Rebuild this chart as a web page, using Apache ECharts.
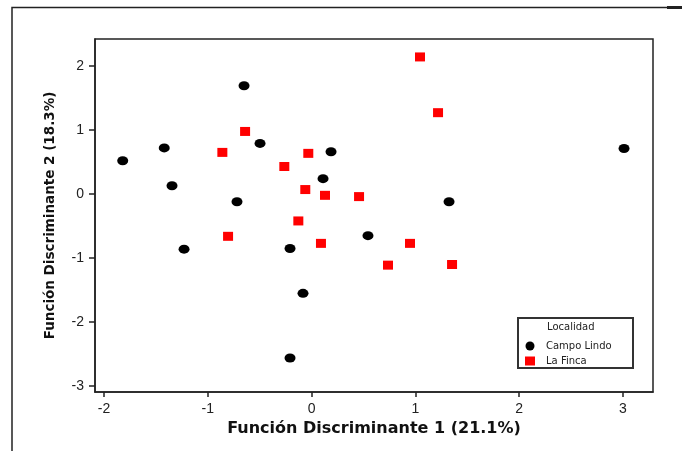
<!DOCTYPE html>
<html>
<head>
<meta charset="utf-8">
<script src="https://cdn.jsdelivr.net/npm/echarts@6/dist/echarts.min.js"></script>
<style>html,body{margin:0;padding:0;background:#fff;}#c{width:682px;height:451px;}</style>
</head>
<body>
<div id="c"></div>
<script>
var xTicks = [-2, -1, 0, 1, 2, 3];
var yTicks = [-3, -2, -1, 0, 1, 2];
var campoLindoX = [-1.82, -1.42, -1.345, -0.651, -0.497, -0.719, -1.229, 0.187, 0.11, -0.208, -0.083, -0.208, 0.543, 1.324, 3.01];
var campoLindoY = [0.52, 0.72, 0.13, 1.69, 0.79, -0.12, -0.86, 0.66, 0.24, -0.85, -1.55, -2.56, -0.65, -0.12, 0.71];
var laFincaX = [-0.641, -0.86, -0.032, -0.263, -0.061, 0.129, 0.457, -0.128, -0.805, 0.09, 1.044, 1.218, 0.948, 0.736, 1.353];
var laFincaY = [0.977, 0.65, 0.635, 0.43, 0.07, -0.02, -0.04, -0.42, -0.66, -0.77, 2.14, 1.27, -0.77, -1.11, -1.10];

function zip(a, b) { return a.map(function (v, i) { return [v, b[i]]; }); }

var chart = echarts.init(document.getElementById('c'));
var font = 'Liberation Sans, Arial, sans-serif';
var wide = 'DejaVu Sans, Verdana, sans-serif';
chart.setOption({
  animation: false,
  backgroundColor: '#fff',
  grid: { left: 95, top: 39, right: 29, bottom: 59, show: true, borderColor: '#222', borderWidth: 1.5, backgroundColor: '#fff' },
  xAxis: {
    type: 'value', min: -2.087, max: 3.289,
    name: 'Función Discriminante 1 (21.1%)', nameLocation: 'middle', nameGap: 28,
    nameTextStyle: { fontFamily: wide, fontWeight: 'bold', fontSize: 16, color: '#111' },
    axisLine: { show: true, onZero: false, lineStyle: { color: '#222', width: 1.5 } },
    axisTick: { show: true, length: 5, inside: false, customValues: xTicks, lineStyle: { color: '#222', width: 1.5 } },
    axisLabel: { customValues: xTicks, margin: 10, fontFamily: font, fontSize: 14, color: '#222' },
    splitLine: { show: false }
  },
  yAxis: {
    type: 'value', min: -3.09, max: 2.42,
    name: 'Función Discriminante 2 (18.3%)', nameLocation: 'middle', nameGap: 38, nameRotate: 90,
    nameTextStyle: { fontFamily: wide, fontWeight: 'bold', fontSize: 13.5, color: '#111' },
    axisLine: { show: true, onZero: false, lineStyle: { color: '#222', width: 1.5 } },
    axisTick: { show: true, length: 6, inside: false, customValues: yTicks, lineStyle: { color: '#222', width: 1.5 } },
    axisLabel: { customValues: yTicks, margin: 11, fontFamily: font, fontSize: 14, color: '#222' },
    splitLine: { show: false }
  },
  legend: {
    left: 525, top: 341, padding: 0, orient: 'vertical', itemGap: 5, itemWidth: 10, itemHeight: 9,
    textStyle: { fontFamily: wide, fontSize: 10, color: '#222', padding: [0, 0, 0, 6] },
    data: [{ name: 'Campo Lindo', icon: 'circle' }, { name: 'La Finca', icon: 'rect' }]
  },
  graphic: [
    { type: 'polyline', shape: { points: [[12, 451], [12, 7.5], [667, 7.5]] }, style: { stroke: '#222', lineWidth: 1.5, fill: null } },
    { type: 'line', shape: { x1: 667, y1: 7.5, x2: 682, y2: 7.5 }, style: { stroke: '#222', lineWidth: 3 } },
    { type: 'rect', shape: { x: 518, y: 318, width: 115, height: 50 }, style: { stroke: '#333', lineWidth: 2, fill: 'rgba(0,0,0,0)' }, z: 100 },
    { type: 'text', x: 547, y: 327, style: { text: 'Localidad', fontFamily: wide, fontSize: 10, fill: '#222', verticalAlign: 'middle' }, z: 100 }
  ],
  series: [
    { name: 'Campo Lindo', type: 'scatter', symbol: 'circle', symbolSize: [11, 9], itemStyle: { color: '#000', opacity: 1 }, data: zip(campoLindoX, campoLindoY) },
    { name: 'La Finca', type: 'scatter', symbol: 'rect', symbolSize: [10, 9], itemStyle: { color: '#ff0000', opacity: 1 }, data: zip(laFincaX, laFincaY) }
  ]
});
</script>
</body>
</html>
